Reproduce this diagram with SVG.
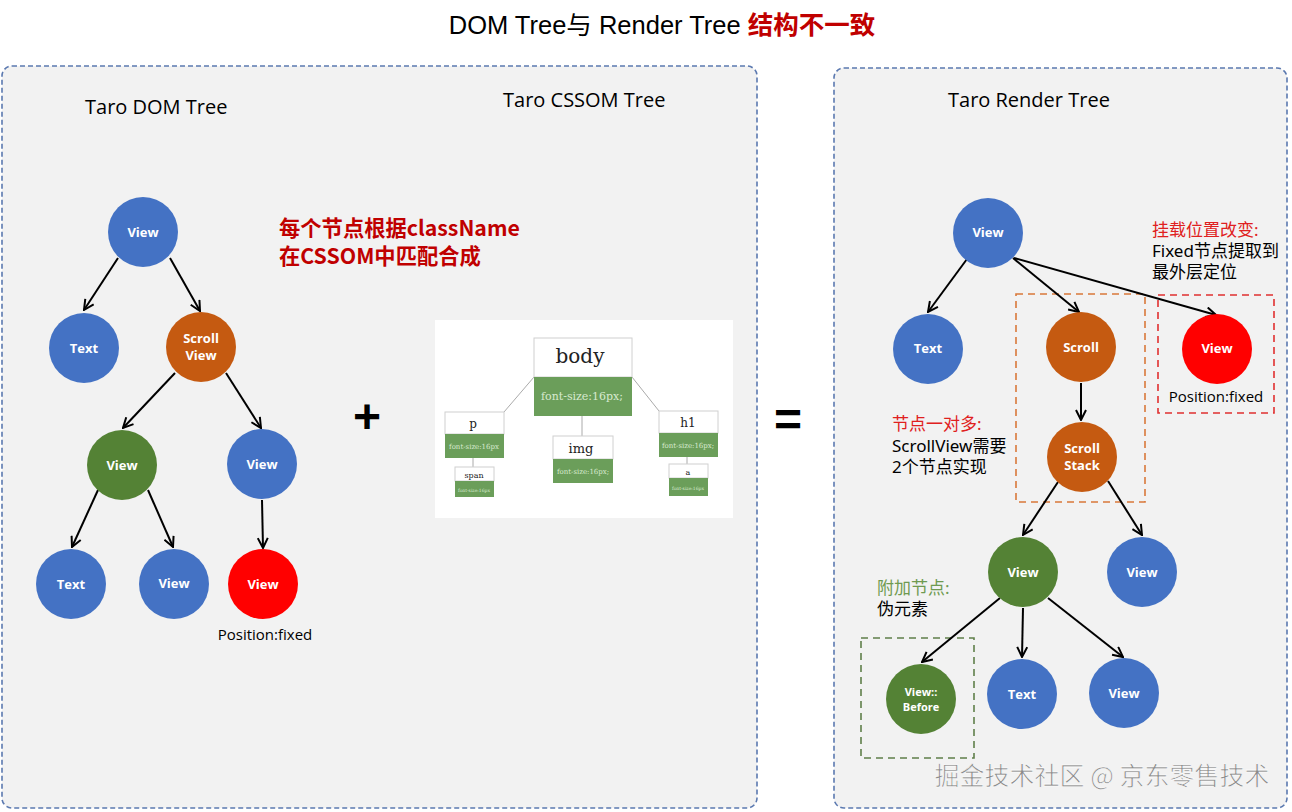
<svg xmlns="http://www.w3.org/2000/svg" width="1292" height="812" viewBox="0 0 1292 812">
<defs>
<marker id="ah" viewBox="0 0 12 12" refX="11" refY="6" markerWidth="12" markerHeight="12" markerUnits="userSpaceOnUse" orient="auto">
<path d="M1,1 L11,6 L1,11" fill="none" stroke="#000" stroke-width="2"/>
</marker>
<style>
.panel{fill:#f2f2f2;stroke:#5b79b0;stroke-width:1.6;stroke-dasharray:5 3}
.c{stroke:none}
.blue{fill:#4472c4}.orange{fill:#c55a11}.green{fill:#548235}.red{fill:#ff0000}
.nl{font-family:"Open Sans","Liberation Sans",sans-serif;font-size:13px;font-weight:bold;fill:#fff;text-anchor:middle}
.nls{font-family:"Open Sans","Liberation Sans",sans-serif;font-size:11px;font-weight:bold;fill:#fff;text-anchor:middle}
.hd{font-family:"Open Sans","Liberation Sans",sans-serif;font-size:20px;fill:#000}
.cn{font-family:"Noto Sans","Noto Sans CJK SC",sans-serif;font-size:17px;fill:#000}
.edge{stroke:#000;stroke-width:2;fill:none;marker-end:url(#ah)}
.gbox{fill:#6b9e5a}
.wbox{fill:#fff;stroke:#d0d0d0;stroke-width:1}
.ser{font-family:"DejaVu Serif","Liberation Serif",serif;fill:#222;text-anchor:middle}
.gt{font-family:"DejaVu Serif","Liberation Serif",serif;fill:#d8ead0;text-anchor:middle}
.cl{stroke:#aaa;stroke-width:1}
</style>
</defs>
<rect width="1292" height="812" fill="#fff"/>
<text x="662" y="34" text-anchor="middle" font-family="'Liberation Sans','Noto Sans CJK SC',sans-serif" font-size="25.5" fill="#000">DOM Tree与 Render Tree <tspan fill="#c00000" font-weight="bold">结构不一致</tspan></text>

<g id="left-panel">
<rect class="panel" x="2" y="66" width="755" height="742" rx="10"/>
<text class="hd" x="85" y="114">Taro DOM Tree</text>
<text class="hd" x="503" y="107">Taro CSSOM Tree</text>
<text x="279" y="236" font-family="'Noto Sans CJK SC',sans-serif" font-size="21.3" font-weight="bold" fill="#c00000">每个节点根据className</text>
<text x="279" y="264" font-family="'Noto Sans CJK SC',sans-serif" font-size="21.3" font-weight="bold" fill="#c00000">在CSSOM中匹配合成</text>
<text x="367" y="433" text-anchor="middle" font-family="'Liberation Sans',sans-serif" font-size="48" font-weight="bold" fill="#000">+</text>
<text x="788" y="436" text-anchor="middle" font-family="'Liberation Sans',sans-serif" font-size="48" font-weight="bold" fill="#000">=</text>
</g>

<g id="cssom-image">
<rect x="435" y="320" width="298" height="198" fill="#fff"/>
<line class="cl" x1="534" y1="377" x2="504" y2="412"/>
<line class="cl" x1="632" y1="377" x2="659" y2="411"/>
<line class="cl" x1="582" y1="416" x2="582" y2="436"/>
<line class="cl" x1="473" y1="458" x2="473" y2="467"/>
<line class="cl" x1="687" y1="457" x2="687" y2="464"/>
<rect class="wbox" x="534" y="338" width="98" height="39"/>
<rect class="gbox" x="534" y="377" width="98" height="39"/>
<text class="ser" x="580" y="363" font-size="20">body</text>
<text class="gt" x="582" y="400" font-size="11">font-size:16px;</text>
<rect class="wbox" x="445" y="412" width="59" height="22"/>
<rect class="gbox" x="445" y="434" width="59" height="24"/>
<text class="ser" x="473" y="428" font-size="12">p</text>
<text class="gt" x="474" y="449" font-size="7">font-size:16px</text>
<rect class="wbox" x="455" y="467" width="39" height="14"/>
<rect class="gbox" x="455" y="481" width="39" height="16"/>
<text class="ser" x="474" y="478" font-size="8">span</text>
<text class="gt" x="474" y="492" font-size="4.5">font-size:16px</text>
<rect class="wbox" x="553" y="436" width="60" height="23"/>
<rect class="gbox" x="553" y="459" width="60" height="24"/>
<text class="ser" x="581" y="453" font-size="13">img</text>
<text class="gt" x="583" y="474" font-size="7">font-size:16px;</text>
<rect class="wbox" x="659" y="411" width="59" height="22"/>
<rect class="gbox" x="659" y="433" width="59" height="24"/>
<text class="ser" x="688" y="427" font-size="12">h1</text>
<text class="gt" x="688" y="448" font-size="7">font-size:16px;</text>
<rect class="wbox" x="669" y="464" width="39" height="14"/>
<rect class="gbox" x="669" y="478" width="39" height="18"/>
<text class="ser" x="688" y="475" font-size="8">a</text>
<text class="gt" x="688" y="490" font-size="4.5">font-size:16px</text>
</g>

<g id="right-panel">
<rect class="panel" x="834" y="68" width="453" height="740" rx="10"/>
<text class="hd" x="948" y="107">Taro Render Tree</text>
<rect x="1016" y="294" width="129" height="208" fill="none" stroke="#d9783a" stroke-width="1.6" stroke-dasharray="7 5"/>
<rect x="1158" y="295" width="116" height="118" fill="none" stroke="#e03030" stroke-width="1.6" stroke-dasharray="7 5"/>
<rect x="861" y="638" width="113" height="120" fill="none" stroke="#5f7f4a" stroke-width="1.6" stroke-dasharray="7 5"/>
<text class="cn" x="1152" y="236"><tspan fill="#e02020">挂载位置改变:</tspan></text>
<text class="cn" x="1152" y="257">Fixed节点提取到</text>
<text class="cn" x="1152" y="278">最外层定位</text>
<text class="cn" x="892" y="430"><tspan fill="#e02020">节点一对多:</tspan></text>
<text class="cn" x="892" y="452">ScrollView需要</text>
<text class="cn" x="892" y="473">2个节点实现</text>
<text class="cn" x="877" y="594"><tspan fill="#6f9a50">附加节点:</tspan></text>
<text class="cn" x="877" y="615">伪元素</text>
<text x="1102" y="785" text-anchor="middle" font-family="'Noto Sans CJK SC',sans-serif" font-size="25" fill="#8a8a8a" stroke="#fff" stroke-width="0.6">掘金技术社区 @ 京东零售技术</text>
</g>

<g id="connectors">
<line class="edge" x1="118" y1="258" x2="84" y2="310"/>
<line class="edge" x1="170" y1="258" x2="200" y2="311"/>
<line class="edge" x1="175" y1="373" x2="123" y2="428"/>
<line class="edge" x1="226" y1="373" x2="261" y2="428"/>
<line class="edge" x1="98" y1="490" x2="72" y2="547"/>
<line class="edge" x1="148" y1="490" x2="173" y2="547"/>
<line class="edge" x1="262" y1="500" x2="263" y2="548"/>
<line class="edge" x1="967" y1="259" x2="928" y2="312"/>
<line class="edge" x1="1013" y1="258" x2="1079" y2="312"/>
<line class="edge" x1="1014" y1="258" x2="1216" y2="315"/>
<line class="edge" x1="1081" y1="383" x2="1081" y2="420"/>
<line class="edge" x1="1058" y1="482" x2="1023" y2="535"/>
<line class="edge" x1="1108" y1="481" x2="1142" y2="535"/>
<line class="edge" x1="1000" y1="598" x2="922" y2="662"/>
<line class="edge" x1="1023" y1="608" x2="1022" y2="657"/>
<line class="edge" x1="1048" y1="598" x2="1123" y2="657"/>
</g>

<g id="dom-view-root"><circle class="c blue" cx="143" cy="232" r="35"/><text class="nl" x="143" y="237">View</text></g>
<g id="dom-text-1"><circle class="c blue" cx="84" cy="348" r="35"/><text class="nl" x="84" y="353">Text</text></g>
<g id="dom-scrollview"><circle class="c orange" cx="201" cy="347" r="35"/><text class="nl" x="201" y="343">Scroll</text><text class="nl" x="201" y="360">View</text></g>
<g id="dom-view-green"><circle class="c green" cx="122" cy="465" r="35"/><text class="nl" x="122" y="470">View</text></g>
<g id="dom-view-blue"><circle class="c blue" cx="262" cy="464" r="35"/><text class="nl" x="262" y="469">View</text></g>
<g id="dom-text-2"><circle class="c blue" cx="71" cy="584" r="35"/><text class="nl" x="71" y="589">Text</text></g>
<g id="dom-view-leaf"><circle class="c blue" cx="174" cy="584" r="35"/><text class="nl" x="174" y="588">View</text></g>
<g id="dom-view-fixed"><circle class="c red" cx="263" cy="584" r="35"/><text class="nl" x="263" y="589">View</text><text x="265" y="640" text-anchor="middle" font-family="'Open Sans','Liberation Sans',sans-serif" font-size="15" fill="#000">Position:fixed</text></g>

<g id="r-view-root"><circle class="c blue" cx="988" cy="233" r="35"/><text class="nl" x="988" y="237">View</text></g>
<g id="r-text"><circle class="c blue" cx="928" cy="349" r="35"/><text class="nl" x="928" y="353">Text</text></g>
<g id="r-scroll"><circle class="c orange" cx="1081" cy="347" r="35"/><text class="nl" x="1081" y="352">Scroll</text></g>
<g id="r-view-fixed"><circle class="c red" cx="1217" cy="349" r="35"/><text class="nl" x="1217" y="353">View</text><text x="1216" y="402" text-anchor="middle" font-family="'Open Sans','Liberation Sans',sans-serif" font-size="15" fill="#000">Position:fixed</text></g>
<g id="r-scroll-stack"><circle class="c orange" cx="1082" cy="457" r="35"/><text class="nl" x="1082" y="453">Scroll</text><text class="nl" x="1082" y="470">Stack</text></g>
<g id="r-view-green"><circle class="c green" cx="1023" cy="572" r="35"/><text class="nl" x="1023" y="577">View</text></g>
<g id="r-view-blue"><circle class="c blue" cx="1142" cy="572" r="35"/><text class="nl" x="1142" y="577">View</text></g>
<g id="r-view-before"><circle class="c green" cx="921" cy="699" r="35"/><text class="nls" x="921" y="696">View::</text><text class="nls" x="921" y="711">Before</text></g>
<g id="r-text-2"><circle class="c blue" cx="1022" cy="694" r="35"/><text class="nl" x="1022" y="699">Text</text></g>
<g id="r-view-leaf"><circle class="c blue" cx="1124" cy="693" r="35"/><text class="nl" x="1124" y="698">View</text></g>
</svg>
